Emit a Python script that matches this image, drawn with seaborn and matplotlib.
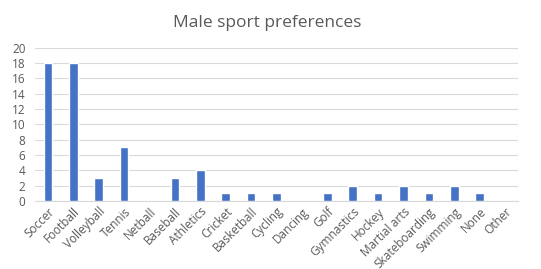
import matplotlib
matplotlib.use("Agg")
import matplotlib.pyplot as plt
import pandas as pd
import seaborn as sns

# ============================================================
# DATA
# ============================================================
SPORTS = [
    "Soccer", "Football", "Volleyball", "Tennis", "Netball", "Baseball",
    "Athletics", "Cricket", "Basketball", "Cycling", "Dancing", "Golf",
    "Gymnastics", "Hockey", "Martial arts", "Skateboarding", "Swimming",
    "None", "Other",
]
COUNTS = [18, 18, 3, 7, 0, 3, 4, 1, 1, 1, 0, 1, 2, 1, 2, 1, 2, 1, 0]
Y_TICKS = [0, 2, 4, 6, 8, 10, 12, 14, 16, 18, 20]

BAR_COLOR = "#4472C4"
TEXT_COLOR = "#595959"
GRID_COLOR = "#D9D9D9"


def main():
    df = pd.DataFrame({"sport": SPORTS, "count": COUNTS})

    sns.set_style("white")
    plt.rcParams["font.family"] = ["Open Sans", "DejaVu Sans"]

    fig = plt.figure(figsize=(5.41, 2.69), dpi=100)
    ax = fig.add_axes([0.065, 0.253, 0.892, 0.569])

    sns.barplot(data=df, x="sport", y="count", color=BAR_COLOR,
                width=0.34, saturation=1, ax=ax, zorder=3)

    ax.set_ylim(0, 20)
    ax.set_xlim(-0.5, len(SPORTS) - 0.5)
    ax.set_yticks(Y_TICKS)
    ax.yaxis.grid(True, color=GRID_COLOR, linewidth=0.8, zorder=0)
    ax.set_axisbelow(True)
    for side in ["top", "right", "left"]:
        ax.spines[side].set_visible(False)
    ax.spines["bottom"].set_color(GRID_COLOR)
    ax.spines["bottom"].set_linewidth(0.8)

    ax.tick_params(axis="both", length=0, colors=TEXT_COLOR, labelsize=8.5)
    ax.tick_params(axis="y", pad=7)
    ax.tick_params(axis="x", pad=3)
    ax.set_xticks(range(len(SPORTS)))
    ax.set_xticklabels(SPORTS, rotation=45, ha="right",
                       rotation_mode="anchor")
    ax.set_xlabel("")
    ax.set_ylabel("")

    fig.suptitle("Male sport preferences", x=0.493, y=0.945,
                 fontsize=12.5, color=TEXT_COLOR)

    fig.savefig("out.png", dpi=100)
    plt.close(fig)


if __name__ == "__main__":
    main()
